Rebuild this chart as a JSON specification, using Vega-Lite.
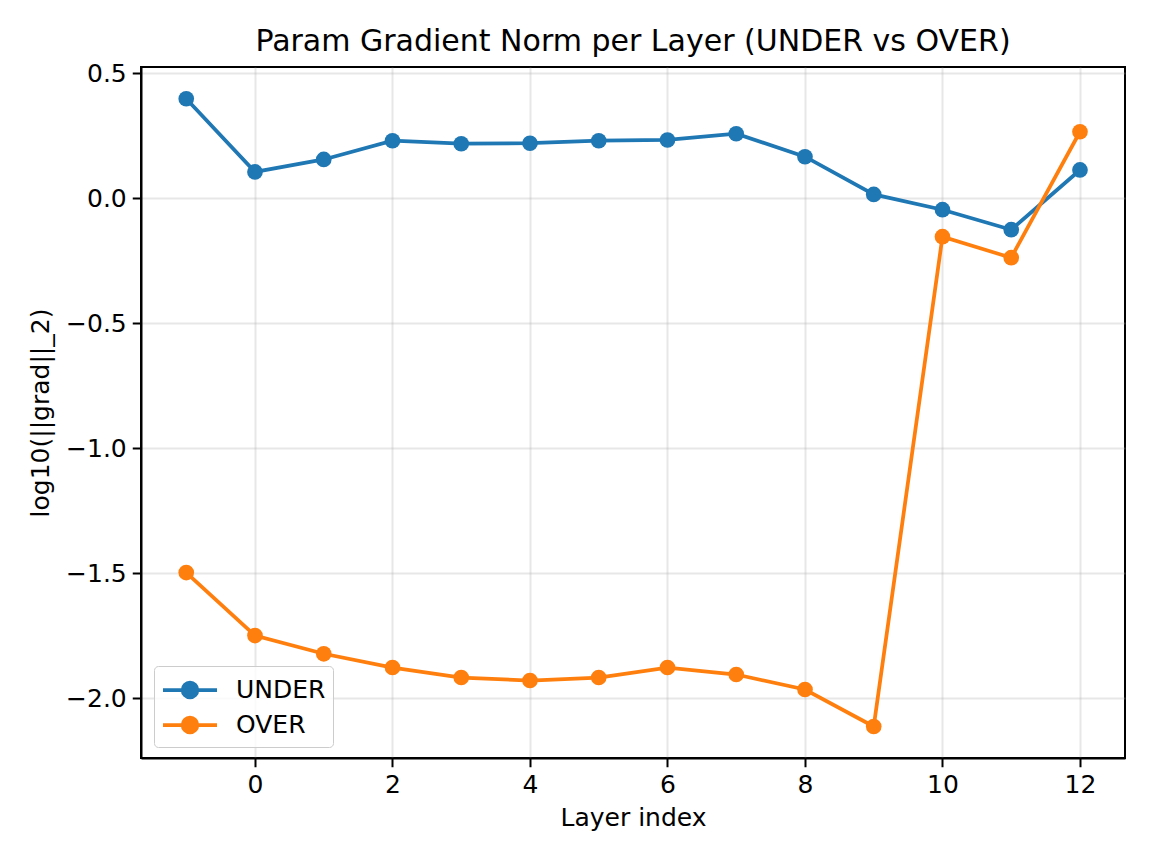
{
  "$schema": "https://vega.github.io/schema/vega-lite/v6.json",
  "width": 984,
  "height": 691,
  "autosize": "none",
  "padding": {"left": 141, "top": 67, "right": 27, "bottom": 106},
  "background": "white",
  "title": {
    "text": "Param Gradient Norm per Layer (UNDER vs OVER)",
    "fontSize": 30,
    "font": "DejaVu Sans",
    "fontWeight": "normal",
    "color": "black",
    "anchor": "middle",
    "offset": 4
  },
  "config": {
    "view": {"stroke": "black", "strokeWidth": 2},
    "font": "DejaVu Sans"
  },
  "data": {
    "values": [
      {"layer": -1, "value": 0.399, "series": "UNDER"},
      {"layer": 0, "value": 0.106, "series": "UNDER"},
      {"layer": 1, "value": 0.156, "series": "UNDER"},
      {"layer": 2, "value": 0.231, "series": "UNDER"},
      {"layer": 3, "value": 0.219, "series": "UNDER"},
      {"layer": 4, "value": 0.221, "series": "UNDER"},
      {"layer": 5, "value": 0.231, "series": "UNDER"},
      {"layer": 6, "value": 0.234, "series": "UNDER"},
      {"layer": 7, "value": 0.259, "series": "UNDER"},
      {"layer": 8, "value": 0.167, "series": "UNDER"},
      {"layer": 9, "value": 0.016, "series": "UNDER"},
      {"layer": 10, "value": -0.045, "series": "UNDER"},
      {"layer": 11, "value": -0.125, "series": "UNDER"},
      {"layer": 12, "value": 0.114, "series": "UNDER"},
      {"layer": -1, "value": -1.497, "series": "OVER"},
      {"layer": 0, "value": -1.749, "series": "OVER"},
      {"layer": 1, "value": -1.822, "series": "OVER"},
      {"layer": 2, "value": -1.877, "series": "OVER"},
      {"layer": 3, "value": -1.917, "series": "OVER"},
      {"layer": 4, "value": -1.929, "series": "OVER"},
      {"layer": 5, "value": -1.917, "series": "OVER"},
      {"layer": 6, "value": -1.877, "series": "OVER"},
      {"layer": 7, "value": -1.905, "series": "OVER"},
      {"layer": 8, "value": -1.965, "series": "OVER"},
      {"layer": 9, "value": -2.113, "series": "OVER"},
      {"layer": 10, "value": -0.153, "series": "OVER"},
      {"layer": 11, "value": -0.237, "series": "OVER"},
      {"layer": 12, "value": 0.267, "series": "OVER"}
    ]
  },
  "encoding": {
    "x": {
      "field": "layer",
      "type": "quantitative",
      "scale": {"domain": [-1.658, 12.655], "nice": false, "zero": false},
      "axis": {
        "title": "Layer index",
        "values": [0, 2, 4, 6, 8, 10, 12],
        "format": "d",
        "labelFontSize": 25,
        "titleFontSize": 25,
        "labelFont": "DejaVu Sans",
        "titleFont": "DejaVu Sans",
        "labelColor": "black",
        "titleColor": "black",
        "titleFontWeight": "normal",
        "domainColor": "black",
        "domainWidth": 2,
        "tickColor": "black",
        "tickWidth": 2,
        "tickSize": 8.75,
        "labelPadding": 6,
        "titlePadding": 8,
        "labelFlush": false,
        "gridColor": "#b0b0b0",
        "gridOpacity": 0.3,
        "gridWidth": 2
      }
    },
    "y": {
      "field": "value",
      "type": "quantitative",
      "scale": {"domain": [-2.239, 0.526], "nice": false, "zero": false},
      "axis": {
        "title": "log10(||grad||_2)",
        "values": [-2, -1.5, -1, -0.5, 0, 0.5],
        "format": ".1f",
        "labelFontSize": 25,
        "titleFontSize": 25,
        "labelFont": "DejaVu Sans",
        "titleFont": "DejaVu Sans",
        "labelColor": "black",
        "titleColor": "black",
        "titleFontWeight": "normal",
        "domainColor": "black",
        "domainWidth": 2,
        "tickColor": "black",
        "tickWidth": 2,
        "tickSize": 8.75,
        "labelPadding": 6,
        "titlePadding": 12,
        "labelFlush": false,
        "gridColor": "#b0b0b0",
        "gridOpacity": 0.3,
        "gridWidth": 2
      }
    },
    "color": {
      "field": "series",
      "type": "nominal",
      "sort": ["UNDER", "OVER"],
      "scale": {"domain": ["UNDER", "OVER"], "range": ["#1f77b4", "#ff7f0e"]},
      "legend": {
        "title": null,
        "orient": "none",
        "legendX": 13,
        "legendY": 599,
        "padding": 7,
        "symbolOffset": 12,
        "symbolType": "M-1.8,0H1.8M0.49,0A0.49,0.49,0,1,1,-0.49,0A0.49,0.49,0,1,1,0.49,0Z",
        "symbolSize": 900,
        "symbolStrokeWidth": 3.75,
        "labelOffset": 29,
        "labelFontSize": 25,
        "labelFont": "DejaVu Sans",
        "labelColor": "black",
        "rowPadding": 3,
        "strokeColor": "#cccccc",
        "fillColor": "rgba(255,255,255,0.8)",
        "cornerRadius": 4,
        "encode": {
          "symbols": {
            "update": {
              "fill": {"scale": "color", "field": "value"},
              "stroke": {"scale": "color", "field": "value"},
              "strokeWidth": {"value": 3.75},
              "opacity": {"value": 1}
            }
          }
        }
      }
    }
  },
  "layer": [
    {"mark": {"type": "line", "strokeWidth": 3.75}},
    {"mark": {"type": "point", "filled": true, "size": 246, "opacity": 1}}
  ]
}
